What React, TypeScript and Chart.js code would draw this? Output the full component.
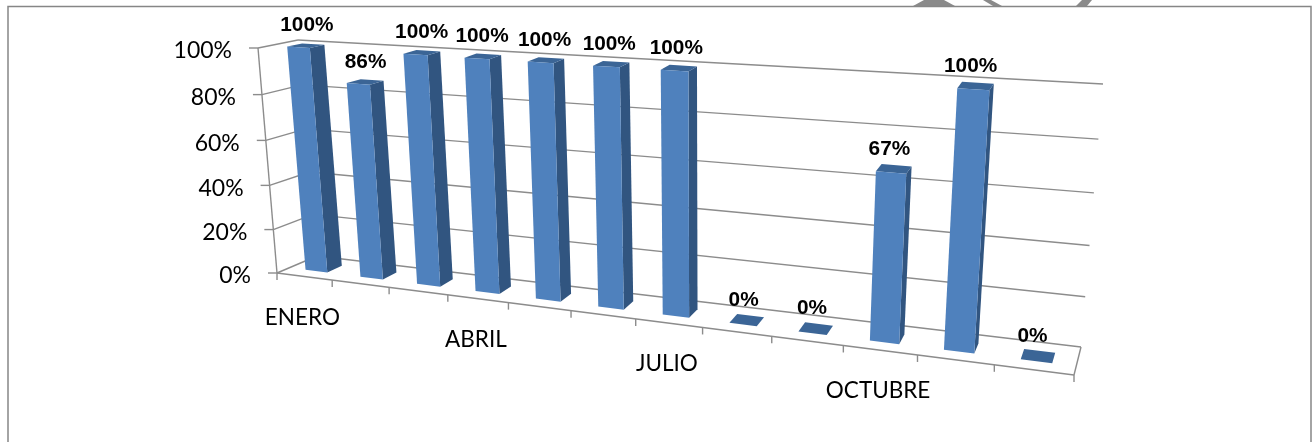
import { useEffect, useRef } from "react";
import { Chart, registerables } from "chart.js";

Chart.register(...registerables);

const months = ["ENERO", "FEBRERO", "MARZO", "ABRIL", "MAYO", "JUNIO", "JULIO", "AGOSTO", "SEPTIEMBRE", "OCTUBRE", "NOVIEMBRE", "DICIEMBRE"];
const shownMonths = ["ENERO", "ABRIL", "JULIO", "OCTUBRE"];
const percentages = [100, 86, 100, 100, 100, 100, 100, 0, 0, 67, 100, 0];
const percentTicks = [0, 20, 40, 60, 80, 100];

type Pt = [number, number];

// Unit square -> quad homography, corners ordered: (0,0) (1,0) (1,1) (0,1)
function homography(q: Pt[]) {
  const [p0, p1, p2, p3] = q;
  const dx1 = p1[0] - p2[0], dx2 = p3[0] - p2[0], sx = p0[0] - p1[0] + p2[0] - p3[0];
  const dy1 = p1[1] - p2[1], dy2 = p3[1] - p2[1], sy = p0[1] - p1[1] + p2[1] - p3[1];
  const den = dx1 * dy2 - dx2 * dy1;
  const g = (sx * dy2 - dx2 * sy) / den;
  const h = (dx1 * sy - sx * dy1) / den;
  const a = p1[0] - p0[0] + g * p1[0], b = p3[0] - p0[0] + h * p3[0], c = p0[0];
  const d = p1[1] - p0[1] + g * p1[1], e = p3[1] - p0[1] + h * p3[1], f = p0[1];
  return (u: number, v: number): Pt => {
    const w = g * u + h * v + 1;
    return [(a * u + b * v + c) / w, (d * u + e * v + f) / w];
  };
}

// The 3D plot box: front and back faces, bottom-left, bottom-right, top-right, top-left
const frontFace = homography([[277, 273], [1074, 375], [1095, 103], [258, 48]]);
const backFace = homography([[317, 256], [1081, 347], [1103, 84], [298, 40]]);

const project = (u: number, v: number, depth: number): Pt => {
  const a = frontFace(u, v), b = backFace(u, v);
  return [a[0] + (b[0] - a[0]) * depth, a[1] + (b[1] - a[1]) * depth];
};

const GRID = "#8c8c8c";
const BAR_FRONT = "#4f81bd";
const BAR_SIDE = "#315580";
const BAR_TOP = "#3b6596";
const DEPTH_NEAR = 0.31;
const DEPTH_FAR = 0.69;

function line(ctx: CanvasRenderingContext2D, a: Pt, b: Pt) {
  ctx.beginPath();
  ctx.moveTo(a[0], a[1]);
  ctx.lineTo(b[0], b[1]);
  ctx.stroke();
}

function face(ctx: CanvasRenderingContext2D, pts: Pt[], fill: string) {
  ctx.beginPath();
  pts.forEach((p, i) => (i ? ctx.lineTo(p[0], p[1]) : ctx.moveTo(p[0], p[1])));
  ctx.closePath();
  ctx.fillStyle = fill;
  ctx.fill();
}

const perspectiveBars = {
  id: "perspectiveBars",
  beforeDatasetsDraw(chart: Chart) {
    const { ctx, chartArea: area, scales } = chart;
    const yScale = scales.y;
    const xScale = scales.x;
    const toU = (px: number) => (px - area.left) / area.width;
    const toV = (px: number) => (area.bottom - px) / area.height;

    ctx.save();
    // Page artwork that pokes out above the chart frame
    const artwork: Pt[][] = [
      [[913, 6], [924, 0], [944, 0], [955, 6]],
      [[983, 0], [991, 0], [1002, 6], [993, 6]],
      [[1082, 0], [1092, 0], [1087, 6], [1076, 6]],
    ];
    artwork.forEach((shape) => face(ctx, shape, "#8a8a8a"));

    // Frame of the embedded chart, open along the bottom
    ctx.strokeStyle = "#868686";
    ctx.lineWidth = 1.5;
    ctx.beginPath();
    ctx.moveTo(8, 442);
    ctx.lineTo(8, 6.5);
    ctx.lineTo(1311, 6.5);
    ctx.lineTo(1311, 442);
    ctx.stroke();

    // Walls, floor and axis ticks
    ctx.strokeStyle = GRID;
    ctx.lineWidth = 1.4;
    ctx.font = "23px Lato";
    ctx.fillStyle = "#000";
    ctx.textAlign = "right";
    ctx.textBaseline = "middle";
    yScale.ticks.forEach((t: { value: number }) => {
      const v = toV(yScale.getPixelForValue(t.value));
      const a = project(0, v, 0), b = project(0, v, 1), c = project(1, v, 1);
      line(ctx, [a[0] - 9, a[1]], a);
      line(ctx, a, b);
      line(ctx, b, c);
      ctx.fillText(`${t.value}%`, a[0] - 26, a[1] + 3);
    });
    line(ctx, project(0, 0, 0), project(0, 1, 0));
    line(ctx, project(0, 0, 0), project(1, 0, 0));
    line(ctx, project(1, 0, 0), project(1, 0, 1));

    ctx.textAlign = "center";
    ctx.font = "22.5px Lato";
    const cell = 1 / months.length;
    months.forEach((m, i) => {
      const p = project(i * cell, 0, 0);
      line(ctx, p, [p[0], p[1] + 7]);
      if (shownMonths.includes(m)) {
        const mid = project((i + 0.5) * cell, 0, 0);
        ctx.fillText(m, mid[0] - 2, mid[1] + 41);
      }
    });
    const last = project(1, 0, 0);
    line(ctx, last, [last[0], last[1] + 7]);

    // Bars as boxes, values read back through the chart's own scales
    const meta = chart.getDatasetMeta(0);
    meta.data.forEach((el: any) => {
      const half = (el.width / 2) / xScale.width;
      const uc = toU(el.x);
      const u0 = uc - half, u1 = uc + half;
      const top = toV(el.y), base = toV(el.base);
      const n = DEPTH_NEAR, f = DEPTH_FAR;
      face(ctx, [project(u1, base, n), project(u1, base, f), project(u1, top, f), project(u1, top, n)], BAR_SIDE);
      face(ctx, [project(u0, top, n), project(u1, top, n), project(u1, top, f), project(u0, top, f)], BAR_TOP);
      if (top > base) {
        face(ctx, [project(u0, base, n), project(u1, base, n), project(u1, top, n), project(u0, top, n)], BAR_FRONT);
      }
    });

    // Value labels above each box
    ctx.font = "bold 20.8px 'Liberation Sans'";
    ctx.fillStyle = "#000";
    meta.data.forEach((el: any, i: number) => {
      const p = project(toU(el.x), toV(el.y), 0.5);
      ctx.fillText(`${percentages[i]}%`, p[0] + 1 - i * 0.6, p[1] - 20);
    });
    ctx.restore();
  },
};

export default function App() {
  const ref = useRef<HTMLCanvasElement>(null);
  useEffect(() => {
    document.body.style.margin = "0";
    const chart = new Chart(ref.current!, {
      type: "bar",
      data: {
        labels: months,
        datasets: [
          {
            data: percentages,
            backgroundColor: "rgba(0,0,0,0)",
            borderWidth: 0,
            barPercentage: 0.4,
            categoryPercentage: 1,
          },
        ],
      },
      options: {
        responsive: false,
        animation: false,
        plugins: { legend: { display: false }, tooltip: { enabled: false } },
        scales: {
          x: { display: false },
          y: {
            display: false,
            min: 0,
            max: 100,
            afterBuildTicks: (s: any) => {
              s.ticks = percentTicks.map((value) => ({ value }));
            },
          },
        },
      },
      plugins: [perspectiveBars],
    });
    return () => chart.destroy();
  }, []);
  return <canvas ref={ref} width={1312} height={442} style={{ display: "block", background: "#fff" }} />;
}
